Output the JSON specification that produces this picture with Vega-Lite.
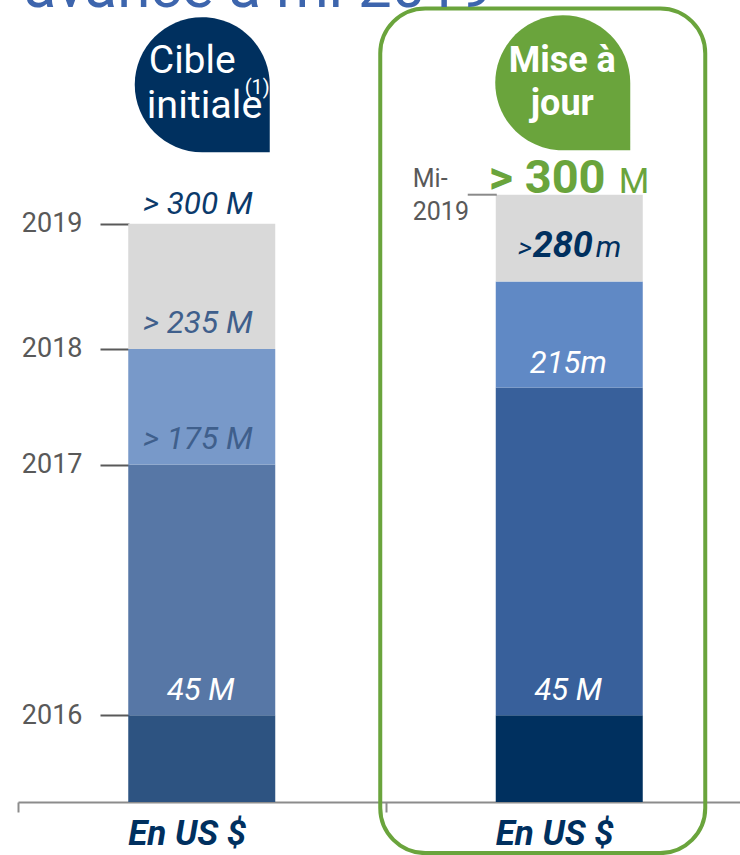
{
  "$schema": "https://vega.github.io/schema/vega-lite/v6.json",
  "width": 735,
  "height": 802,
  "autosize": {"type": "none"},
  "padding": {"left": 18, "top": 0, "right": 0, "bottom": 53},
  "background": "white",
  "config": {"view": {"stroke": null}, "font": "Roboto"},
  "data": {"values": [{"note": "annotation"}]},
  "datasets": {
    "bars": [
      {"col": "initial", "seg": "L2016", "lo": 0, "hi": 45},
      {"col": "initial", "seg": "L2017", "lo": 45, "hi": 175},
      {"col": "initial", "seg": "L2018", "lo": 175, "hi": 235},
      {"col": "initial", "seg": "L2019", "lo": 235, "hi": 300},
      {"col": "update", "seg": "R2016", "lo": 0, "hi": 45},
      {"col": "update", "seg": "R2017", "lo": 45, "hi": 215},
      {"col": "update", "seg": "R2018", "lo": 215, "hi": 270},
      {"col": "update", "seg": "R2019", "lo": 270, "hi": 315}
    ],
    "labels": [
      {"col": "initial", "v": 300, "label": "> 300 M", "kind": "top"},
      {"col": "initial", "v": 235, "label": "> 235 M", "kind": "mid"},
      {"col": "initial", "v": 175, "label": "> 175 M", "kind": "mid"},
      {"col": "initial", "v": 45, "label": "45 M", "kind": "white"},
      {"col": "update", "v": 215, "label": "215m", "kind": "white"},
      {"col": "update", "v": 45, "label": "45 M", "kind": "white"}
    ]
  },
  "layer": [
    {
      "data": {"name": "bars"},
      "mark": {"type": "bar", "width": 147},
      "encoding": {
        "x": {
          "field": "col", "type": "nominal",
          "scale": {"domain": ["initial", "update"], "paddingInner": 0, "paddingOuter": 0},
          "axis": {
            "orient": "bottom", "title": null, "domain": true, "domainColor": "#8c8c8c", "domainWidth": 2,
            "ticks": true, "tickBand": "extent", "tickSize": 10, "tickColor": "#8c8c8c", "tickWidth": 2,
            "labelExpr": "datum.value == 'initial' || datum.value == 'update' ? 'En US $' : ''",
            "labelFont": "Roboto", "labelFontSize": 35, "labelFontWeight": "bold", "labelOffset": -15,
            "labelFontStyle": "italic", "labelColor": "#00305f", "labelPadding": 4, "labelAngle": 0
          }
        },
        "y": {
          "field": "lo", "type": "quantitative",
          "scale": {"domain": [0, 416], "nice": false, "zero": true},
          "axis": {
            "orient": "left", "offset": -111, "values": [45, 175, 235, 300],
            "labelExpr": "datum.value == 45 ? '2016' : datum.value == 175 ? '2017' : datum.value == 235 ? '2018' : '2019'",
            "domain": false, "grid": false, "ticks": true, "tickSize": 29, "tickWidth": 2, "tickColor": "#595959",
            "labelColor": "#595959", "labelFontSize": 27, "labelFont": "Roboto", "labelPadding": 18, "title": null
          }
        },
        "y2": {"field": "hi"},
        "color": {
          "field": "seg", "type": "nominal", "legend": null,
          "scale": {
            "domain": ["L2016", "L2017", "L2018", "L2019", "R2016", "R2017", "R2018", "R2019"],
            "range": ["#2d5381", "#5777a6", "#7899c9", "#d9d9d9", "#00305f", "#38609b", "#6089c5", "#d9d9d9"]
          }
        }
      }
    },
    {
      "mark": {"type": "bar", "width": 325, "xOffset": -26.5, "filled": false, "stroke": "#6aa43c", "strokeWidth": 4, "cornerRadius": 45, "clip": false},
      "encoding": {
        "x": {"datum": "update"},
        "y": {"datum": 411.6},
        "y2": {"datum": -26.5}
      }
    },
    {
      "mark": {"type": "tick", "orient": "horizontal", "size": 29, "thickness": 2, "color": "#595959", "xOffset": -87},
      "encoding": {"x": {"datum": "update"}, "y": {"datum": 315}}
    },
    {
      "mark": {"type": "text", "text": "Mi-\n2019", "lineBreak": "\n", "align": "left", "baseline": "top", "dx": -156.5, "dy": -27.5, "fontSize": 25, "color": "#595959", "lineHeight": 33},
      "encoding": {"x": {"datum": "update"}, "y": {"datum": 315}}
    },
    {
      "data": {"name": "labels"},
      "transform": [{"filter": "datum.kind == 'top'"}],
      "mark": {"type": "text", "align": "center", "baseline": "middle", "dx": -4, "dy": -19, "fontSize": 31.5, "fontStyle": "italic", "color": "#0b3a6b"},
      "encoding": {"x": {"field": "col", "type": "nominal"}, "y": {"field": "v", "type": "quantitative"}, "text": {"field": "label"}}
    },
    {
      "data": {"name": "labels"},
      "transform": [{"filter": "datum.kind == 'mid'"}],
      "mark": {"type": "text", "align": "center", "baseline": "middle", "dx": -4, "dy": -25, "fontSize": 31.5, "fontStyle": "italic", "color": "#3f5f8c"},
      "encoding": {"x": {"field": "col", "type": "nominal"}, "y": {"field": "v", "type": "quantitative"}, "text": {"field": "label"}}
    },
    {
      "data": {"name": "labels"},
      "transform": [{"filter": "datum.kind == 'white'"}],
      "mark": {"type": "text", "align": "center", "baseline": "middle", "dx": -1, "dy": -24, "fontSize": 31, "fontStyle": "italic", "color": "#ffffff"},
      "encoding": {"x": {"field": "col", "type": "nominal"}, "y": {"field": "v", "type": "quantitative"}, "text": {"field": "label"}}
    },
    {
      "mark": {"type": "text", "text": ">", "align": "left", "baseline": "alphabetic", "dx": -51.5, "dy": -24.4, "fontSize": 28, "fontStyle": "italic", "color": "#00305f"},
      "encoding": {"x": {"datum": "update"}, "y": {"datum": 270}}
    },
    {
      "mark": {"type": "text", "text": "280", "align": "left", "baseline": "alphabetic", "dx": -36.5, "dy": -24.4, "fontSize": 36, "fontStyle": "italic", "fontWeight": "bold", "color": "#00305f"},
      "encoding": {"x": {"datum": "update"}, "y": {"datum": 270}}
    },
    {
      "mark": {"type": "text", "text": "m", "align": "left", "baseline": "alphabetic", "dx": 26.5, "dy": -24.4, "fontSize": 30, "fontStyle": "italic", "color": "#00305f"},
      "encoding": {"x": {"datum": "update"}, "y": {"datum": 270}}
    },
    {
      "mark": {"type": "text", "text": "> 300", "align": "left", "baseline": "alphabetic", "dx": -80.5, "dy": -1.7, "fontSize": 47, "fontWeight": "bold", "color": "#6aa43c"},
      "encoding": {"x": {"datum": "update"}, "y": {"datum": 315}}
    },
    {
      "mark": {"type": "text", "text": "M", "align": "left", "baseline": "alphabetic", "dx": 49.5, "dy": -1.7, "fontSize": 35, "color": "#6aa43c"},
      "encoding": {"x": {"datum": "update"}, "y": {"datum": 315}}
    },
    {
      "mark": {"type": "point", "shape": "M 1 0 A 1 1 0 1 0 0 1 L 1 1 Z", "size": 18225, "filled": true, "opacity": 1, "color": "#00305f", "xOffset": 0.5},
      "encoding": {"x": {"datum": "initial"}, "y": {"datum": 372}}
    },
    {
      "mark": {"type": "point", "shape": "M 1 0 A 1 1 0 1 0 0 1 L 1 1 Z", "size": 18225, "filled": true, "opacity": 1, "color": "#6aa43c", "xOffset": -6.5, "yOffset": -2},
      "encoding": {"x": {"datum": "update"}, "y": {"datum": 372}}
    },
    {
      "mark": {"type": "text", "text": "Cible", "align": "left", "baseline": "alphabetic", "dx": -53, "dy": -11.8, "fontSize": 39, "color": "#ffffff"},
      "encoding": {"x": {"datum": "initial"}, "y": {"datum": 372}}
    },
    {
      "mark": {"type": "text", "text": "initiale", "align": "left", "baseline": "alphabetic", "dx": -55, "dy": 33.2, "fontSize": 39.5, "color": "#ffffff"},
      "encoding": {"x": {"datum": "initial"}, "y": {"datum": 372}}
    },
    {
      "mark": {"type": "text", "text": "(1)", "align": "left", "baseline": "alphabetic", "dx": 43, "dy": 9, "fontSize": 20, "color": "#ffffff"},
      "encoding": {"x": {"datum": "initial"}, "y": {"datum": 372}}
    },
    {
      "mark": {"type": "text", "text": "Mise à", "align": "center", "baseline": "alphabetic", "dx": -7, "dy": -12.8, "fontSize": 36, "fontWeight": "bold", "color": "#ffffff"},
      "encoding": {"x": {"datum": "update"}, "y": {"datum": 372}}
    },
    {
      "mark": {"type": "text", "text": "jour", "align": "center", "baseline": "alphabetic", "dx": -7, "dy": 30.2, "fontSize": 36, "fontWeight": "bold", "color": "#ffffff"},
      "encoding": {"x": {"datum": "update"}, "y": {"datum": 372}}
    },
    {
      "mark": {"type": "text", "text": "avancé à mi 2019", "align": "left", "baseline": "alphabetic", "dx": -178, "fontSize": 60, "color": "#3d65ad"},
      "encoding": {"x": {"datum": "initial"}, "y": {"datum": 412.3}}
    }
  ]
}
